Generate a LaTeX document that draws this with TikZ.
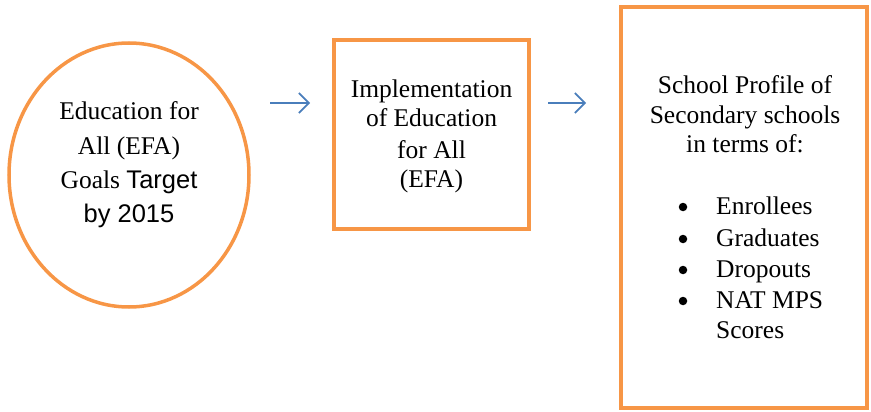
\documentclass[tikz,border=0pt]{standalone}
\usepackage{fontspec}
\setmainfont{Liberation Serif}
\newfontfamily\arialfont{Liberation Sans}
\usetikzlibrary{shapes.geometric,arrows.meta}
\definecolor{efaorange}{HTML}{F79646}
\definecolor{efablue}{HTML}{4A7EBB}
\begin{document}
\begin{tikzpicture}[x=1pt,y=-1pt,
  frame/.style={draw=efaorange,line width=3.5pt,inner sep=0pt},
  flow/.style={draw=efablue,line width=1.6pt,-{Straight Barb[length=10pt,width=20pt,line width=1.6pt]}},
  txt/.style={font=\fontsize{25.5}{30}\selectfont,inner sep=0pt,anchor=base},
  dot/.style={circle,fill=black,inner sep=0pt,minimum size=8.5pt}]
\useasboundingbox (0,0) rectangle (871,412);
% shapes
\node[frame,ellipse,minimum width=240pt,minimum height=264pt] (goal) at (129,175) {};
\node[frame,rectangle,minimum width=195pt,minimum height=189pt] (impl) at (431.5,134.5) {};
\node[frame,rectangle,minimum width=246pt,minimum height=401pt] (prof) at (744,207.5) {};
% ellipse text
\node[txt] (g1) at (129,120) {Education for};
\node[txt] (g2) at (129,154) {All (EFA)};
\node[txt] (g3) at (129,188) {Goals {\arialfont Target}};
\node[txt] (g4) at (129,222) {\arialfont by 2015};
% implementation text
\node[txt] (i1) at (431.5,98) {Implementation};
\node[txt] (i2) at (431.5,127) {of Education};
\node[txt] (i3) at (431.5,158) {for All};
\node[txt] (i4) at (431.5,187) {(EFA)};
% profile text
\node[txt] (h1) at (745,94) {School Profile of};
\node[txt] (h2) at (745,124) {Secondary schools};
\node[txt] (h3) at (745,153) {in terms of:};
\node[dot] (b1) at (683,207) {};
\node[dot] (b2) at (683,239) {};
\node[dot] (b3) at (683,270) {};
\node[dot] (b4) at (683,301) {};
\node[txt,anchor=base west] (e1) at (716,214) {Enrollees};
\node[txt,anchor=base west] (e2) at (716,246) {Graduates};
\node[txt,anchor=base west] (e3) at (716,277) {Dropouts};
\node[txt,anchor=base west] (e4) at (716,308) {NAT MPS};
\node[txt,anchor=base west] (e5) at (716,338) {Scores};
% arrows
\coordinate (a1s) at (270,103);
\coordinate (a1e) at (310,103);
\coordinate (a2s) at (548,103);
\coordinate (a2e) at (586,103);
\draw[flow] (a1s) -- (a1e);
\draw[flow] (a2s) -- (a2e);
\end{tikzpicture}
\end{document}
